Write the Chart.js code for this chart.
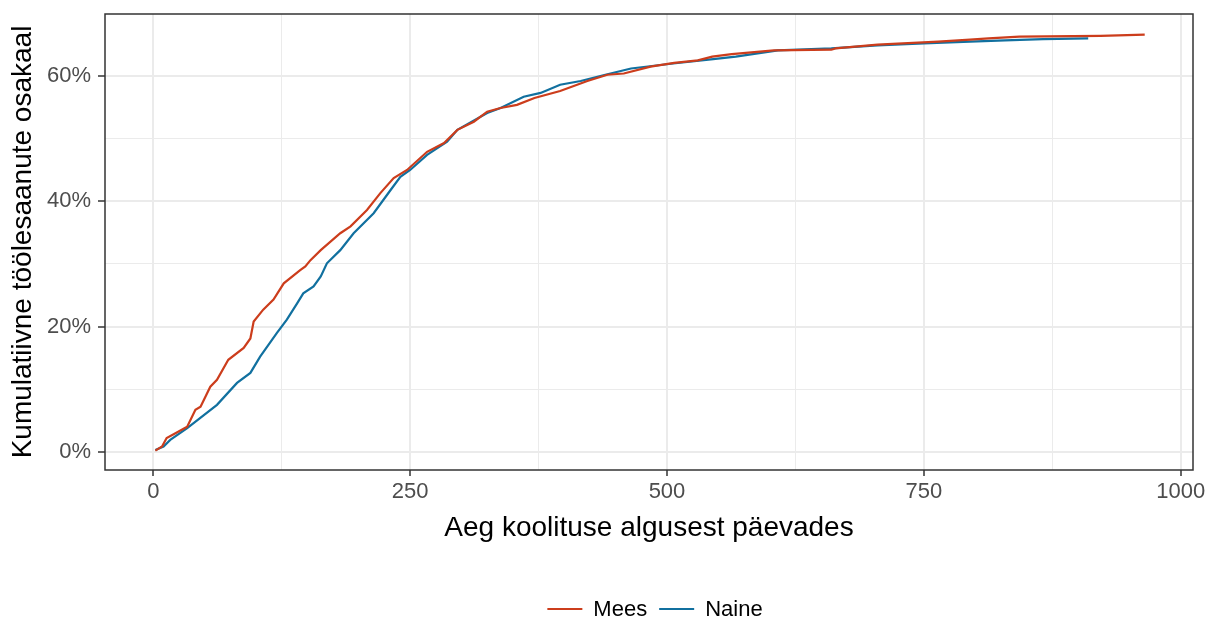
<!DOCTYPE html>
<html>
<head>
<meta charset="utf-8">
<script src="https://cdn.jsdelivr.net/npm/chart.js@4.4.1/dist/chart.umd.min.js"></script>
<style>
  body { margin: 0; background: #fff; }
</style>
</head>
<body>
<canvas id="chart" width="1208" height="621"></canvas>
<script>
// days since start of training / cumulative share employed (%)
const meesDays = [2, 8.5, 13, 22, 33, 41, 46, 55.5, 62, 73, 88, 94.5, 97.7, 107, 117, 127, 143, 148, 153, 163, 182, 192, 208, 221, 234, 247, 266.5, 283, 296, 312, 325, 338, 354, 371, 396, 422.5, 442, 458, 484, 507, 530, 544, 563, 604, 660, 664, 705, 764, 795, 813, 843, 922, 965];
const meesShare = [0.2, 0.85, 2.2, 3.0, 4.0, 6.7, 7.2, 10.4, 11.5, 14.7, 16.6, 18.1, 20.8, 22.7, 24.3, 26.9, 29.0, 29.6, 30.6, 32.2, 34.9, 36.0, 38.6, 41.3, 43.7, 45.0, 47.9, 49.3, 51.4, 52.7, 54.3, 54.9, 55.4, 56.5, 57.6, 59.2, 60.2, 60.4, 61.5, 62.1, 62.5, 63.1, 63.5, 64.1, 64.2, 64.4, 65.0, 65.5, 65.8, 66.0, 66.3, 66.4, 66.6];

const naineDays = [2, 10, 16.5, 33, 62, 81.5, 94.5, 104, 120, 130, 140, 146, 156, 163, 169, 182, 195, 214.5, 231, 240.5, 250, 266.5, 286, 296, 325, 338, 360.5, 377, 396, 416, 440, 465, 506, 545, 567, 608, 660, 705, 750, 795, 829, 866, 910];
const naineShare = [0.3, 0.85, 1.9, 3.8, 7.5, 11.0, 12.6, 15.2, 18.9, 21.1, 23.7, 25.3, 26.4, 28.0, 30.1, 32.2, 34.9, 38.1, 41.8, 43.9, 45.0, 47.4, 49.5, 51.4, 54.1, 54.9, 56.7, 57.3, 58.6, 59.2, 60.2, 61.2, 62.0, 62.7, 63.1, 64.1, 64.4, 64.9, 65.2, 65.5, 65.7, 65.9, 66.0];

const xTicks = [0, 125, 250, 375, 500, 625, 750, 875, 1000];
const yTicks = [0, 10, 20, 30, 40, 50, 60];

const FONT = "'Liberation Sans', Arial, sans-serif";

const toPoints = (xs, ys) => xs.map((x, i) => ({ x: x, y: ys[i] }));

const panelBorder = {
    id: 'panelBorder',
    afterDraw(chart) {
        const { ctx, chartArea: a } = chart;
        ctx.save();
        ctx.strokeStyle = '#333333';
        ctx.lineWidth = 1.5;
        ctx.strokeRect(a.left, a.top, a.right - a.left, a.bottom - a.top);

        // legend under the plot
        ctx.font = '22px ' + FONT;
        ctx.textBaseline = 'middle';
        const items = chart.data.datasets.map(ds => ({ ds, w: ctx.measureText(ds.label).width }));
        const total = items.reduce((s, it) => s + 35 + 11 + it.w, 0) + 12 * (items.length - 1);
        let x = (a.left + a.right) / 2 - total / 2 + 6;
        const y = 609;
        items.forEach(it => {
            ctx.strokeStyle = it.ds.borderColor;
            ctx.lineWidth = it.ds.borderWidth;
            ctx.beginPath();
            ctx.moveTo(x, y);
            ctx.lineTo(x + 35, y);
            ctx.stroke();
            ctx.fillStyle = '#000';
            ctx.fillText(it.ds.label, x + 46, y + 1);
            x += 35 + 11 + it.w + 12;
        });
        ctx.restore();
    }
};

const isMajorX = v => v % 250 === 0;
const isMajorY = v => v % 20 === 0;

new Chart(document.getElementById('chart'), {
    type: 'line',
    data: {
        datasets: [{
            label: 'Mees',
            data: toPoints(meesDays, meesShare),
            borderColor: '#cc3d1c',
            borderWidth: 2.2,
            pointRadius: 0,
            tension: 0
        }, {
            label: 'Naine',
            data: toPoints(naineDays, naineShare),
            borderColor: '#11709f',
            borderWidth: 2.2,
            pointRadius: 0,
            tension: 0
        }]
    },
    options: {
        responsive: false,
        animation: false,
        devicePixelRatio: 1,
        layout: { padding: { top: 14, right: 15, left: 0, bottom: 0 } },
        plugins: {
            legend: { display: false },
            tooltip: { enabled: false }
        },
        scales: {
            x: {
                type: 'linear',
                min: -47,
                max: 1012,
                afterBuildTicks: s => { s.ticks = xTicks.map(v => ({ value: v })); },
                afterFit: s => { s.height = 151; s.paddingLeft = 0; s.paddingRight = 0; },
                border: { display: false },
                grid: {
                    color: '#ebebeb',
                    lineWidth: c => isMajorX(c.tick.value) ? 2 : 1,
                    tickColor: c => isMajorX(c.tick.value) ? '#333333' : 'rgba(0,0,0,0)',
                    tickWidth: 1.5,
                    tickLength: 6
                },
                ticks: {
                    autoSkip: false,
                    maxRotation: 0,
                    padding: 3,
                    color: '#4d4d4d',
                    font: { family: FONT, size: 22 },
                    callback: v => isMajorX(v) ? String(v) : ''
                },
                title: {
                    display: true,
                    text: 'Aeg koolituse algusest päevades',
                    color: '#000',
                    font: { family: FONT, size: 28 },
                    padding: { top: 0, bottom: 76 }
                }
            },
            y: {
                type: 'linear',
                min: -2.9,
                max: 69.9,
                afterBuildTicks: s => { s.ticks = yTicks.map(v => ({ value: v })); },
                afterFit: s => { s.width = 105; s.paddingTop = 0; s.paddingBottom = 0; },
                border: { display: false },
                grid: {
                    color: '#ebebeb',
                    lineWidth: c => isMajorY(c.tick.value) ? 2 : 1,
                    tickColor: c => isMajorY(c.tick.value) ? '#333333' : 'rgba(0,0,0,0)',
                    tickWidth: 1.5,
                    tickLength: 7
                },
                ticks: {
                    autoSkip: false,
                    padding: 7,
                    color: '#4d4d4d',
                    font: { family: FONT, size: 22 },
                    callback: v => isMajorY(v) ? v + '%' : ''
                },
                title: {
                    display: true,
                    text: 'Kumulatiivne töölesaanute osakaal',
                    color: '#000',
                    font: { family: FONT, size: 28 },
                    padding: { top: 6, bottom: 0 }
                }
            }
        }
    },
    plugins: [panelBorder]
});
</script>
</body>
</html>
